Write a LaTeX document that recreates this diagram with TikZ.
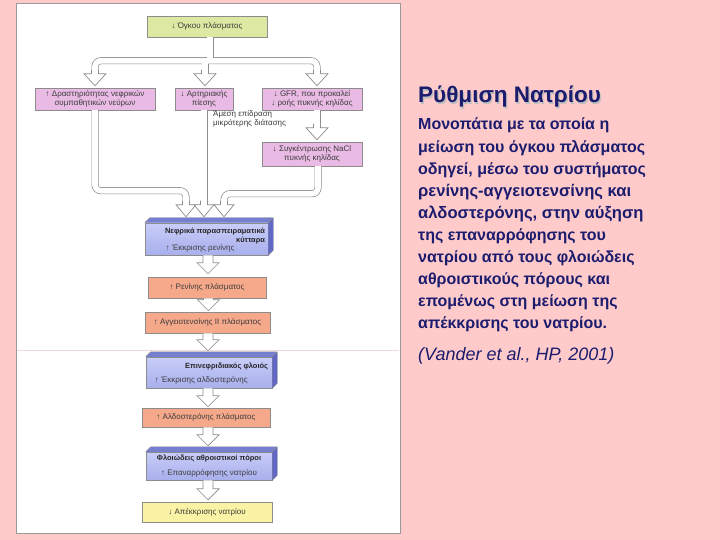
\documentclass[tikz,border=0pt]{standalone}
\usepackage{fontspec}
\setmainfont{Liberation Sans}
\usetikzlibrary{calc}
\definecolor{bgpink}{RGB}{255,202,202}
\definecolor{navy}{RGB}{28,28,110}
\definecolor{boxpink}{RGB}{232,186,228}
\definecolor{boxgreen}{RGB}{221,232,162}
\definecolor{boxorange}{RGB}{245,168,138}
\definecolor{boxyellow}{RGB}{250,242,165}
\definecolor{blufrontA}{RGB}{200,205,248}
\definecolor{blufrontB}{RGB}{168,175,236}
\definecolor{blutop}{RGB}{118,126,208}
\definecolor{bluside}{RGB}{96,104,196}
\definecolor{pipegray}{RGB}{140,140,140}
\definecolor{txtgray}{RGB}{60,60,60}
\definecolor{seamline}{RGB}{245,215,215}

\tikzset{
  fbox/.style={draw=black!45, line width=0.5pt, inner sep=1pt, align=center, text=txtgray,
    font=\fontsize{8}{9.5}\selectfont},
  cubefront/.style={draw=black!45, line width=0.5pt, inner sep=0pt, top color=blufrontA, bottom color=blufrontB},
  pipeout/.style={draw=pipegray, line width=7pt, rounded corners=6pt},
  pipein/.style={draw=white, line width=5.6pt, rounded corners=6pt},
  harrow/.style={fill=white, draw=pipegray, line width=0.7pt, line join=miter},
  dtext/.style={text=txtgray, font=\fontsize{8}{9.5}\selectfont, inner sep=0pt},
  btext/.style={text=black!85, font=\bfseries\fontsize{7.5}{9.5}\selectfont, inner sep=0pt},
  titletext/.style={font=\bfseries\fontsize{22.5}{26}\selectfont, inner sep=0pt, anchor=base west},
  body/.style={text=navy, font=\bfseries\fontsize{16}{22}\selectfont, inner sep=0pt, anchor=base west},
  bodybig/.style={body, font=\bfseries\fontsize{16.6}{22}\selectfont},
}

\newcommand\cubefaces[1]{%
  \fill[blutop] (#1.north west) -- ++(5,-5) -- ([xshift=5pt,yshift=5pt]#1.north east) -- (#1.north east) -- cycle;
  \fill[bluside] (#1.north east) -- ++(5,-5) -- ([xshift=5pt,yshift=5pt]#1.south east) -- (#1.south east) -- cycle;
  \draw[black!45, line width=0.4pt] (#1.north west) -- ++(5,-5) -- ([xshift=5pt,yshift=5pt]#1.north east)
     -- ([xshift=5pt,yshift=5pt]#1.south east) -- (#1.south east) (#1.north east) -- ++(5,-5);}

\newcommand\pipehead[2][11]{%
  \filldraw[harrow] let \p1=(#2) in (\x1-3.5pt,\y1+16pt) -- (\x1-3.5pt,\y1+12pt) -- (\x1-#1pt,\y1+12pt)
    -- (\x1,\y1) -- (\x1+#1pt,\y1+12pt) -- (\x1+3.5pt,\y1+12pt) -- (\x1+3.5pt,\y1+16pt);}

\newcommand\blockarrow[2]{%
  \filldraw[harrow] let \p1=#1, \p2=#2 in (\x2-5pt,\y1) -- (\x2-5pt,\y2+11pt) -- (\x2-11pt,\y2+11pt)
    -- (\x2,\y2) -- (\x2+11pt,\y2+11pt) -- (\x2+5pt,\y2+11pt) -- (\x2+5pt,\y1);}

\begin{document}
\begin{tikzpicture}[x=1pt,y=-1pt]
\useasboundingbox (0,0) rectangle (720,540);
\fill[bgpink] (0,0) rectangle (720,540);

% white panel
\filldraw[fill=white, draw=black!40, line width=0.8pt] (16,3) rectangle (400,533);
\draw[seamline, line width=1pt] (17,350) -- (399,350);

% ---- nodes ----
\node[fbox, fill=boxgreen, minimum width=120pt, minimum height=21pt] (top) at (207,26.5) {↓ Όγκου πλάσματος};
\node[fbox, fill=boxpink, minimum width=120pt, minimum height=22pt] (sym) at (95,99) {↑ Δραστηριότητας νεφρικών\\συμπαθητικών νεύρων};
\node[fbox, fill=boxpink, minimum width=58pt, minimum height=22pt] (pres) at (204,99) {↓ Αρτηριακής\\πίεσης};
\node[fbox, fill=boxpink, minimum width=100pt, minimum height=22pt] (gfr) at (312,99) {↓ GFR, που προκαλεί\\↓ ροής πυκνής κηλίδας};
\node[fbox, fill=boxpink, minimum width=100pt, minimum height=24pt] (nacl) at (312,154) {↓ Συγκέντρωσης NaCl\\πυκνής κηλίδας};
\node[dtext, anchor=north west, align=left] (direct) at (213,110) {Άμεση επίδραση\\μικρότερης διάτασης};

\node[cubefront, minimum width=123pt, minimum height=32pt] (nef) at (206.5,239) {};
\cubefaces{nef}
\node[btext, anchor=north east, align=right] (neft) at ([xshift=-3pt,yshift=-5pt]nef.north east) {Νεφρικά παρασπειραματικά\\κύτταρα};
\node[dtext, anchor=base west] (nefs) at ([xshift=21pt,yshift=5pt]nef.south west) {↑ Έκκρισης ρενίνης};

\node[fbox, fill=boxorange, minimum width=118pt, minimum height=21pt] (ren) at (207,287.5) {↑ Ρενίνης πλάσματος};
\node[fbox, fill=boxorange, minimum width=125pt, minimum height=21pt] (ang) at (207.5,322.5) {↑ Αγγειοτενσίνης ΙΙ πλάσματος};

\node[cubefront, minimum width=126pt, minimum height=31pt] (adr) at (209,372.5) {};
\cubefaces{adr}
\node[btext, anchor=north east] (adrt) at ([xshift=-4pt,yshift=-6pt]adr.north east) {Επινεφριδιακός φλοιός};
\node[dtext, anchor=base west] (adrs) at ([xshift=9pt,yshift=6pt]adr.south west) {↑ Έκκρισης αλδοστερόνης};

\node[fbox, fill=boxorange, minimum width=128pt, minimum height=19pt] (ald) at (206,417.5) {↑ Αλδοστερόνης πλάσματος};

\node[cubefront, minimum width=126pt, minimum height=28pt] (duct) at (209,466) {};
\cubefaces{duct}
\node[btext] (ductt) at ([yshift=8pt]duct.center) {Φλοιώδεις αθροιστικοί πόροι};
\node[dtext] (ducts) at ([yshift=-7pt]duct.center) {↑ Επαναρρόφησης νατρίου};

\node[fbox, fill=boxyellow, minimum width=130pt, minimum height=20pt] (fin) at (207,512) {↓ Απέκκρισης νατρίου};

% ---- arrow tips ----
\coordinate (tS) at ([yshift=2pt]sym.north);
\coordinate (tP) at ([xshift=1pt,yshift=2pt]pres.north);
\coordinate (tG) at ([xshift=5pt,yshift=2pt]gfr.north);
\coordinate (tN) at ([xshift=5pt,yshift=2pt]nacl.north);
\coordinate (tn1) at ([xshift=-20.5pt,yshift=6pt]nef.north);
\coordinate (tn2) at ([xshift=-2.5pt,yshift=6pt]nef.north);
\coordinate (tn3) at ([xshift=17.5pt,yshift=6pt]nef.north);

% ---- pipes ----
\foreach \st in {pipeout,pipein}{
  \draw[\st] ([xshift=3pt]top.south) -- ($(tP)+(5,-25)$);
  \draw[\st] ($(tS)+(0,-14)$) |- ($(tG)+(0,-25)$) -- ($(tG)+(0,-14)$);
  \draw[\st] ($(tP)+(0,-25)$) -- ($(tP)+(0,-14)$);
  \draw[\st] ([xshift=5pt]gfr.south) -- ($(tN)+(0,-14)$);
  \draw[\st] (sym.south) |- ($(tn1)+(0,-26)$) -- ($(tn1)+(0,-14)$);
  \draw[\st] (pres.south) -- ($(tn2)+(0,-14)$);
  \draw[\st] ([xshift=6pt]nacl.south) |- ($(tn3)+(0,-23)$) -- ($(tn3)+(0,-14)$);
}
\pipehead{tS}
\pipehead{tP}
\pipehead{tG}
\pipehead{tN}
\pipehead[10]{tn1}
\pipehead[10]{tn3}
\pipehead[10]{tn2}

% ---- block arrows ----
\blockarrow{(nef.south)}{([xshift=1pt,yshift=3pt]ren.north)}
\blockarrow{(ren.south)}{([xshift=1pt,yshift=1pt]ang.north)}
\blockarrow{(ang.south)}{([xshift=-1pt,yshift=6pt]adr.north)}
\blockarrow{(adr.south)}{([xshift=2pt,yshift=1pt]ald.north)}
\blockarrow{(ald.south)}{([xshift=-1pt,yshift=6pt]duct.north)}
\blockarrow{(duct.south)}{([xshift=1pt,yshift=2pt]fin.north)}

% ---- right text ----
\node[titletext, text=black!25] (titleshadow) at (419.2,104.2) {Ρύθμιση Νατρίου};
\node[titletext, text=navy] (title) at (418,103) {Ρύθμιση Νατρίου};
\foreach \t [count=\i from 0] in {Μονοπάτια με τα οποία η, μείωση του όγκου πλάσματος, {οδηγεί, μέσω του συστήματος}}
  \node[body] (b\i) at (418,130+22.1*\i) {\t};
\node[bodybig] (b3) at (418,130+22.1*3) {ρενίνης-αγγειοτενσίνης και};
\node[bodybig] (b4) at (418,130+22.1*4) {αλδοστερόνης, στην αύξηση};
\foreach \t [count=\i from 5] in {της επαναρρόφησης του,
  νατρίου από τους φλοιώδεις, αθροιστικούς πόρους και, επομένως στη μείωση της, απέκκρισης του νατρίου.}
  \node[body] (b\i) at (418,130+22.1*\i) {\t};
\node[inner sep=0pt, anchor=base west, text=navy, font=\itshape\fontsize{18}{20}\selectfont] (ref) at (418,360) {(Vander et al., HP, 2001)};
\end{tikzpicture}
\end{document}
